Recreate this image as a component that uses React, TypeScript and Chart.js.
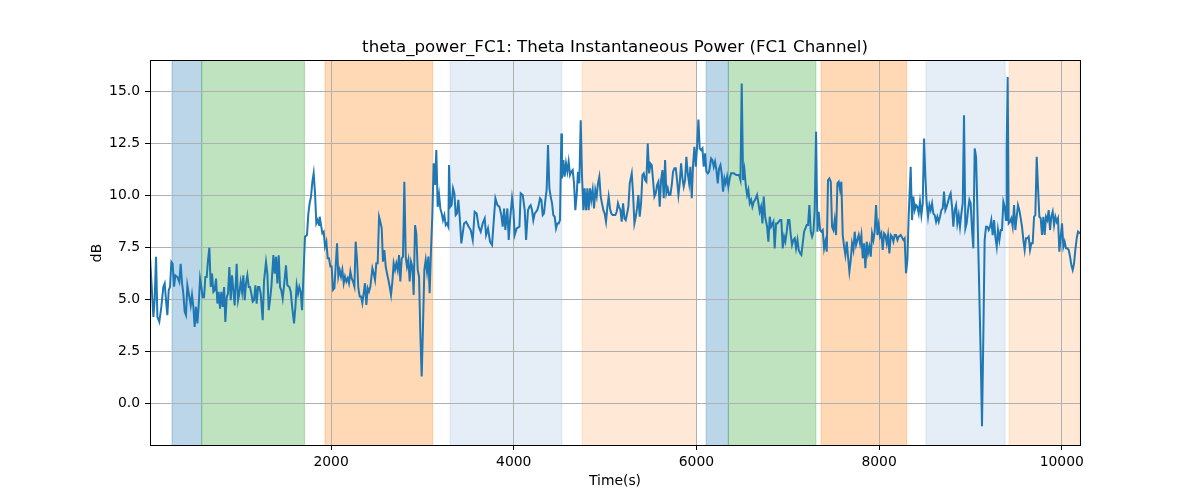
import React, { useEffect, useRef } from 'react';
import { Chart, registerables } from 'chart.js';

Chart.register(...registerables);

const TITLE = 'theta_power_FC1: Theta Instantaneous Power (FC1 Channel)';
const X_LABEL = 'Time(s)';
const Y_LABEL = 'dB';

const X_MIN = 17;
const X_MAX = 10200;
const Y_MIN = -2.02;
const Y_MAX = 16.47;
const X_TICKS = [2000, 4000, 6000, 8000, 10000];
const Y_TICKS = [0, 2.5, 5, 7.5, 10, 12.5, 15];

const BLUE = 'rgba(31,119,180,0.3)';
const GREEN = 'rgba(44,160,44,0.3)';
const ORANGE = 'rgba(255,127,14,0.3)';
const LIGHT_BLUE = 'rgba(40,110,190,0.12)';
const LIGHT_ORANGE = 'rgba(255,127,14,0.17)';

const SPAN_STARTS = [258, 583, 1934, 3303, 4748, 6106, 6350, 7365, 8513, 9424];
const SPAN_ENDS = [583, 1708, 3113, 4526, 6001, 6350, 7308, 8303, 9380, 10200];
const SPAN_COLORS = [BLUE, GREEN, ORANGE, LIGHT_BLUE, LIGHT_ORANGE, BLUE, GREEN, ORANGE, LIGHT_BLUE, LIGHT_ORANGE];

const T1 = [17,54,68,83,98,119,141,163,178,192,207,222,236,251,265,280,295,317,338,353,368,382,397,411,426,448,463,477,492,506,521,536,550,565,579,594,609,623,638,652,667,682,696,711,725,740,755,769,784,798,813,828,842,857,871,886,901,915,930,944,966,981,995,1010,1025,1039,1054,1068,1083,1098,1112,1127,1141,1156,1171,1185,1200,1214,1229,1251,1266,1287,1302,1317,1331,1346,1368,1382,1397,1412,1426,1441,1455,1470,1485,1506,1521,1543,1558,1572,1594,1609,1623,1638,1652,1667,1682];
const V1 = [7.04,4.15,4.97,7.04,4.15,3.91,4.63,5.59,5.76,4.97,4.23,5.43,5.59,6.79,6.7,5.6,6.15,6.07,5.83,6.7,5.76,5.27,4.39,4.23,5.67,5.1,4.7,5.2,4.63,3.67,4.63,3.83,4.7,5.99,5.59,5.1,5.1,6.07,6.07,6.87,7.48,5.59,6.23,5.35,5.43,5.99,4.79,5.35,4.55,5.35,4.63,5.59,3.91,5.1,5.27,6.55,4.95,6.15,5.43,4.7,6.71,4.95,5.27,5.83,5.35,6.15,4.95,5.76,6.15,5.59,5.59,5.27,4.88,4.95,5.67,4.79,5.59,5.59,5.27,3.99,5.91,6.79,6.23,4.47,4.95,5.59,7.12,6.23,7.04,5.76,7.12,5.59,5.43,5.03,5.67,6.63,5.67,5.59,5.35,4.7,3.83,4.63,5.67,5.27,5.59,5.35,4.47];

const T2 = [1714,1736,1751,1765,1780,1795,1809,1824,1838,1853,1868,1875,1890,1904,1919,1933,1948,1963,1977,1992,2006,2021,2036,2050,2065,2079,2094,2109,2123,2138,2152,2167,2182,2196,2211,2225,2240,2255,2269,2284,2298,2313,2328,2342,2357,2371,2386,2401,2415,2430,2452,2466,2481,2495,2510,2525,2539,2554,2568,2583,2598,2612,2627,2641,2656,2671,2685,2700,2714,2729,2744,2758,2773,2787,2802,2817,2831,2846,2860,2875,2890,2904,2919,2933,2948,2963,2977,2992,3006,3021,3036,3050,3065,3079,3094,3109,3123,3138,3152,3167,3182,3196,3211,3225,3240,3255,3269,3284,3291,3306,3320,3335,3350,3364,3379,3393,3408];
const V2 = [8.01,8.09,9.13,9.62,9.94,10.66,11.06,10.1,8.65,8.81,8.57,8.97,8.57,8.17,8.25,7.53,7.77,6.97,6.97,6.57,6.57,5.45,5.53,6.57,7.69,6.09,6.41,6.09,6.41,5.77,6.09,5.85,6.01,5.77,6.33,6.01,5.85,5.61,7.77,6.89,5.53,5.13,5.13,4.81,5.29,5.77,4.73,5.53,5.37,5.61,6.49,6.25,5.93,6.73,6.73,8.97,8.73,8.41,6.81,7.37,6.57,6.25,5.93,5.61,5.21,5.85,6.73,6.41,6.73,6.41,7.13,5.85,6.97,7.05,10.66,7.05,6.57,6.89,5.85,6.81,6.57,5.21,8.57,8.17,6.41,6.09,3.37,1.28,3.69,6.41,6.89,6.33,7.05,5.29,7.37,9.13,11.54,10.5,12.18,9.45,10.02,9.37,9.13,8.81,9.05,8.57,8.65,8.49,11.46,9.45,9.53,10.34,10.1,9.05,9.13,9.78,8.97];

const T3 = [3426,3456,3478,3507,3529,3551,3572,3594,3616,3638,3660,3682,3697,3718,3740,3762,3784,3799,3821,3843,3864,3879,3894,3908,3930,3945,3959,3981,3996,4010,4032,4062,4076,4098,4120,4135,4156];
const V3 = [7.69,8.65,8.73,8.49,8.33,7.85,9.21,9.13,8.49,8.25,8.65,8.89,8.09,8.41,7.77,7.61,8.97,9.86,9.53,9.45,9.05,8.49,9.37,8.33,9.37,7.85,8.81,9.86,9.29,8.09,8.41,8.49,10.1,10.02,9.29,7.85,9.29];

const T4 = [4171,4185,4200,4214,4229,4244,4258,4273,4287,4302,4317,4331,4346,4360,4375,4390,4404,4419,4433,4448,4463,4477,4492,4506,4521,4528,4543,4557,4572,4587,4601,4616,4630,4645,4660,4674,4689,4703,4718,4733,4747,4762,4776,4791,4806,4820,4835,4849,4864,4879,4893,4908,4922,4937,4952,4966,4981,4995,5010,5025,5039,5054,5068,5083,5098,5112,5127,5141];
const V4 = [9.45,9.53,9.29,8.81,9.13,9.21,9.29,9.53,9.86,9.78,9.05,9.13,9.78,10.26,12.42,10.34,9.94,9.62,9.05,8.97,8.41,8.65,8.65,8.81,12.98,10.82,11.7,10.9,11.54,11.14,11.62,10.98,11.14,11.22,10.58,9.29,10.02,11.14,10.58,13.62,10.98,9.29,10.34,9.29,10.34,9.29,10.34,9.78,10.26,9.37,10.26,9.94,10.58,10.9,9.94,9.62,9.29,9.13,8.73,9.45,9.94,9.37,9.13,9.05,9.05,9.05,9.21,9.62];

const T5 = [5153,5168,5182,5197,5212,5226,5241,5255,5270,5292,5306,5321,5336,5350,5365,5379,5394,5409,5423,5438,5452,5467,5482,5496,5511,5525,5540,5555,5569,5584,5598,5613,5628,5642,5657,5671,5686,5701,5715,5730,5744,5759,5774,5788,5803,5817,5832,5847,5861,5876,5890,5905,5920,5934,5949,5963,5978,5993,6007,6022,6036,6051,6066,6080,6095,6109,6124,6139,6161,6175,6190,6204,6219,6234,6248,6263,6277,6292,6307,6321,6336,6350,6365,6380,6409,6438,6467,6482,6496,6511,6526,6540,6555,6569,6584,6599,6613,6628,6642,6664,6679,6693,6708,6723,6737,6752,6774,6788,6803,6818];
const V5 = [9.45,9.29,8.73,9.62,8.89,8.81,9.13,9.45,10.58,11.06,10.1,8.65,8.97,9.37,10.02,8.97,9.62,10.98,11.06,10.74,10.66,12.5,11.06,11.54,11.46,10.74,9.94,10.1,10.5,10.66,9.45,10.74,11.22,9.86,11.7,10.1,10.34,10.02,10.02,10.5,11.14,11.3,11.3,10.74,10.02,10.58,11.54,10.82,10.42,10.74,11.86,11.06,10.58,11.38,9.86,11.46,12.34,11.38,12.34,13.65,12.26,12.18,12.26,11.38,12.02,11.14,11.06,11.14,11.78,11.7,11.38,11.62,11.22,10.58,11.3,11.46,11.06,10.18,10.82,10.58,10.9,10.42,10.82,11.06,11.06,10.98,10.98,10.74,15.38,10.74,11.22,10.5,10.02,10.26,9.62,9.78,9.45,9.69,9.78,10.02,9.62,9.21,9.45,8.65,9.94,8.97,8.49,7.77,8.97,8.49];

const T6 = [6843,6857,6872,6887,6901,6916,6930,6945,6960,6974,6989,7003,7018,7033,7047,7062,7076,7091,7106,7120,7135,7149,7164,7179,7193,7208,7222,7237,7252,7266,7281,7295,7310,7325,7339,7354,7368,7383,7398,7412,7427,7441,7456,7471,7485,7500,7514,7529,7544,7558,7573,7587,7602,7617,7631,7646,7660,7675,7690,7704,7719,7733,7748,7763,7777,7792,7806,7821,7836,7850,7865,7879,7894,7909,7923,7938,7952,7967,7982,7996,8011,8025,8040,8055,8069,8084,8098,8113,8128,8142,8157,8171,8186,8201,8215];
const V6 = [8.73,7.45,8.65,8.65,8.73,8.81,8.81,7.45,8.01,7.77,8.25,8.81,8.81,8.09,7.61,7.85,7.93,7.45,7.85,7.37,7.21,7.13,7.69,8.25,8.41,8.57,8.57,9.53,8.25,8.01,8.25,9.29,13.06,8.25,9.21,8.33,8.25,8.33,7.45,7.77,7.29,10.74,10.82,10.66,8.49,8.33,8.81,8.09,10.58,10.66,10.26,10.66,8.09,7.53,7.13,7.77,7.05,6.33,6.89,7.69,7.37,8.25,7.61,7.85,8.09,7.69,8.09,6.97,7.69,6.49,7.77,7.21,7.53,7.05,8.17,7.85,8.25,9.53,8.09,8.57,8.01,8.17,7.37,8.17,8.09,7.69,8.09,7.21,8.09,8.01,7.77,8.09,8.09,7.85,8.01];

const T7 = [8237,8266,8280,8295,8310,8324,8346,8361,8375,8390,8405,8419,8434,8448,8463,8478,8492,8507,8521,8536,8551,8565,8580,8594,8609,8624,8638,8653,8667,8682,8697,8711,8726,8740,8755,8770,8784,8799,8813,8828,8843,8857,8872,8886,8901,8916,8930,8945,8959,8974,8989,9003,9018,9032,9047,9062,9076,9091,9113,9127,9142,9156,9171,9186,9200,9215,9229,9244,9259,9273,9288,9302,9317,9332,9346,9361,9375,9390,9397,9408,9419,9434,9448,9463,9478,9492,9507,9521,9536,9551,9565,9580,9594,9609,9624,9638,9653,9667,9682,9697,9711,9726,9740,9755,9770,9784,9799,9813,9828,9843,9857,9872,9886,9901,9916,9930,9945,9959,9974,9989,10003,10018,10032,10047,10062,10076,10091,10105,10120,10135,10149,10164,10178,10200];
const V7 = [8.09,7.85,7.93,6.25,6.89,8.97,11.38,8.81,9.94,9.29,9.53,9.45,9.13,9.69,9.05,9.61,12.74,10.9,9.61,8.97,9.53,9.29,9.61,9.13,9.05,8.73,8.97,8.73,8.97,9.29,9.37,10.18,9.29,9.45,9.69,9.94,10.1,9.45,8.49,9.29,9.53,8.65,9.05,8.49,9.13,9.61,13.86,8.41,8.65,9.29,9.78,9.61,8.33,7.45,12.26,11.86,9.45,6.57,2.24,-1.12,3.37,7.85,8.49,8.49,8.33,8.49,8.81,8.09,8.81,8.01,7.53,8.33,7.85,8.33,8.33,9.69,9.45,8.81,12.18,15.7,8.65,8.73,8.89,8.49,9.53,8.33,8.97,9.53,9.29,8.89,8.49,7.85,7.37,7.93,7.93,8.01,7.37,7.69,7.69,8.97,9.05,11.86,10.42,8.97,8.89,8.09,8.97,8.09,8.97,8.81,9.29,8.33,8.97,9.21,8.57,8.97,8.73,8.89,7.29,8.01,8.65,7.53,7.77,7.45,7.45,7.37,7.05,6.65,6.41,6.73,7.37,7.93,8.25,8.17];

const TIME_SEGMENTS = [T1, T2, T3, T4, T5, T6, T7];
const VALUE_SEGMENTS = [V1, V2, V3, V4, V5, V6, V7];

function buildPoints() {
  const pts: { x: number; y: number }[] = [];
  TIME_SEGMENTS.forEach((ts, s) => {
    const vs = VALUE_SEGMENTS[s];
    const n = Math.min(ts.length, vs.length);
    for (let i = 0; i < n; i++) pts.push({ x: ts[i], y: vs[i] });
  });
  return pts;
}

const FONT = '"DejaVu Sans", "Liberation Sans", sans-serif';

const spanPlugin = {
  id: 'spans',
  beforeDraw(chart: any) {
    const { ctx, chartArea } = chart;
    const xs = chart.scales.x;
    ctx.save();
    ctx.beginPath();
    ctx.rect(chartArea.left, chartArea.top, chartArea.right - chartArea.left, chartArea.bottom - chartArea.top);
    ctx.clip();
    for (let i = 0; i < SPAN_STARTS.length; i++) {
      const x0 = xs.getPixelForValue(SPAN_STARTS[i]);
      const x1 = xs.getPixelForValue(SPAN_ENDS[i]);
      ctx.fillStyle = SPAN_COLORS[i];
      ctx.fillRect(x0, chartArea.top, x1 - x0, chartArea.bottom - chartArea.top);
      ctx.strokeStyle = SPAN_COLORS[i];
      ctx.lineWidth = 1;
      ctx.strokeRect(x0, chartArea.top - 2, x1 - x0, chartArea.bottom - chartArea.top + 4);
    }
    ctx.restore();
  },
};

const framePlugin = {
  id: 'frame',
  afterDraw(chart: any) {
    const { ctx, chartArea } = chart;
    const { left, right, top, bottom } = chartArea;
    ctx.save();
    ctx.strokeStyle = '#000';
    ctx.lineWidth = 1;
    ctx.strokeRect(Math.round(left) + 0.5, Math.round(top) - 0.5, Math.round(right) - Math.round(left), Math.round(bottom) - Math.round(top) + 1);

    ctx.fillStyle = '#000';
    ctx.textAlign = 'center';
    ctx.textBaseline = 'alphabetic';
    ctx.font = `16.67px ${FONT}`;
    ctx.fillText(TITLE, (left + right) / 2, 52);

    ctx.font = `13.9px ${FONT}`;
    ctx.textBaseline = 'middle';
    ctx.fillText(X_LABEL, (left + right) / 2, 481);

    ctx.translate(97, (top + bottom) / 2);
    ctx.rotate(-Math.PI / 2);
    ctx.fillText(Y_LABEL, 0, 0);
    ctx.restore();
  },
};

export default function App() {
  const ref = useRef<HTMLCanvasElement>(null);

  useEffect(() => {
    const canvas = ref.current;
    if (!canvas) return;
    const grid = { color: '#b0b0b0', lineWidth: 1, tickColor: '#000', tickLength: 5, drawTicks: true };
    const tickFont = { family: FONT, size: 13.9 };
    const chart = new Chart(canvas, {
      type: 'line',
      data: {
        datasets: [
          {
            data: buildPoints(),
            borderColor: '#1f77b4',
            borderWidth: 2,
            pointRadius: 0,
            fill: false,
            tension: 0,
          },
        ],
      },
      options: {
        responsive: false,
        animation: false,
        devicePixelRatio: 1,
        parsing: false,
        layout: { padding: { top: 61, right: 120, left: 0, bottom: 0 } },
        plugins: {
          legend: { display: false },
          tooltip: { enabled: false },
          title: { display: false },
        },
        scales: {
          x: {
            type: 'linear',
            min: X_MIN,
            max: X_MAX,
            afterBuildTicks: (s: any) => {
              s.ticks = X_TICKS.map((v) => ({ value: v }));
            },
            afterFit: (s: any) => {
              s.height = 55;
            },
            grid,
            border: { display: false },
            ticks: {
              color: '#000',
              font: tickFont,
              padding: 4,
              maxRotation: 0,
              autoSkip: false,
              callback: (v: any) => String(v),
            },
          },
          y: {
            type: 'linear',
            min: Y_MIN,
            max: Y_MAX,
            afterBuildTicks: (s: any) => {
              s.ticks = Y_TICKS.map((v) => ({ value: v }));
            },
            afterFit: (s: any) => {
              s.width = 150;
            },
            grid,
            border: { display: false },
            ticks: {
              color: '#000',
              font: tickFont,
              padding: 5,
              autoSkip: false,
              callback: (v: any) => Number(v).toFixed(1),
            },
          },
        },
      },
      plugins: [spanPlugin, framePlugin],
    } as any);
    return () => chart.destroy();
  }, []);

  return (
    <div style={{ position: 'fixed', left: 0, top: 0, width: 1200, height: 500, background: '#fff' }}>
      <canvas ref={ref} width={1200} height={500} style={{ display: 'block', width: 1200, height: 500 }} />
    </div>
  );
}
